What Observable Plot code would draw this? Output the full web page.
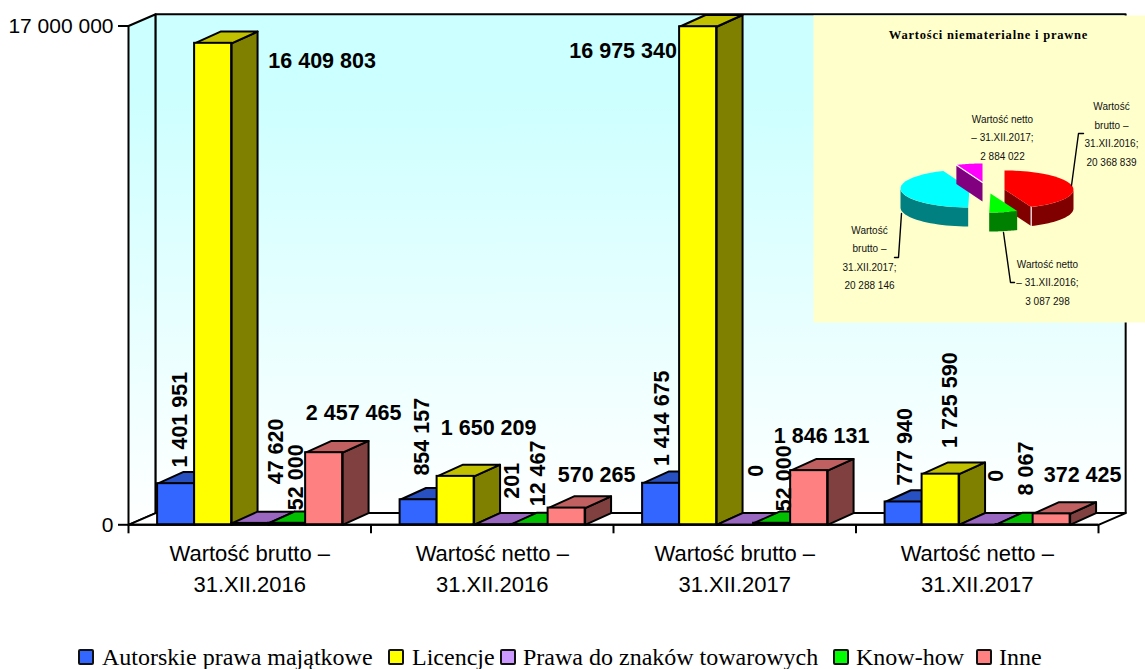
<!DOCTYPE html>
<html lang="pl"><head><meta charset="utf-8">
<script src="https://cdn.jsdelivr.net/npm/d3@7"></script>
<script src="https://cdn.jsdelivr.net/npm/@observablehq/plot@0.6"></script>
<style>
html,body{margin:0;padding:0;background:#fff;width:1145px;height:669px;overflow:hidden}
#stage{position:relative;width:1145px;height:669px}
#stage svg{position:absolute;overflow:visible}
.inset-title{letter-spacing:.8px}
.leg{position:absolute;font-family:"Liberation Serif",serif;font-size:24px;line-height:26px;top:644px;white-space:nowrap;color:#000}
.sw{position:absolute;top:649px;width:12px;height:12px;border:2px solid #111;border-radius:2px}
</style></head><body><div id="stage"></div>
<script>
const categories = ["Wartość brutto –\n31.XII.2016","Wartość netto –\n31.XII.2016","Wartość brutto –\n31.XII.2017","Wartość netto –\n31.XII.2017"];
const seriesNames = ["Autorskie prawa majątkowe","Licencje","Prawa do znaków towarowych","Know-how","Inne"];
const autorskie = [1401951,854157,1414675,777940];
const licencje = [16409803,1650209,16975340,1725590];
const znaki = [47620,201,0,0];
const knowHow = [52000,12467,52000,8067];
const inne = [2457465,570265,1846131,372425];
const yTicks = [0,17000000];

const pieNames = ["Wartość\nbrutto –\n31.XII.2016;\n20 368 839","Wartość netto\n– 31.XII.2016;\n3 087 298","Wartość\nbrutto –\n31.XII.2017;\n20 288 146","Wartość netto\n– 31.XII.2017;\n2 884 022"];
const pieValues = [20368839,3087298,20288146,2884022];

const frontColors = ["#3366FF","#FFFF00","#CC99FF","#00FF00","#FF8080"];
const topColors = ["#2850C0","#C0C000","#9966C0","#00C000","#C06060"];
const sideColors = ["#1A3380","#808000","#664D80","#008000","#804040"];

const fmt = d3.formatLocale({thousands:" ",grouping:[3],decimal:","}).format(",d");
const allSeries = [autorskie,licencje,znaki,knowHow,inne];

const barStart = 0.12, barW = 0.1526, depthX = 0.107, depthY = 400000, wallX = 0.112;
const rows = [];
categories.forEach((c,g)=>allSeries.forEach((vals,s)=>{
  const x1 = g+barStart+s*barW;
  rows.push({g,s,v:vals[g],x1,x2:x1+barW,xc:x1+barW/2,fill:frontColors[s],top:topColors[s],side:sideColors[s],name:seriesNames[s]});
}));

const faces = [];
const addFace = (id,fill,pts)=>pts.forEach(([x,y])=>faces.push({id,fill,x,y}));
rows.forEach((r,i)=>{
  addFace("side"+i,r.side,[[r.x2,0],[r.x2+depthX,depthY],[r.x2+depthX,r.v+depthY],[r.x2,r.v]]);
  addFace("top"+i,r.top,[[r.x1,r.v],[r.x1+depthX,r.v+depthY],[r.x2+depthX,r.v+depthY],[r.x2,r.v]]);
});

const wall = [];
[["left",[[0,0],[wallX,depthY],[wallX,17e6+depthY],[0,17e6]]],
 ["back",[[wallX,depthY],[4+wallX,depthY],[4+wallX,17e6+depthY],[wallX,17e6+depthY]]]
].forEach(([id,pts])=>pts.forEach(([x,y])=>wall.push({id,x,y})));
const floor = [[0,0],[wallX,depthY],[4+wallX,depthY],[4,0]].map(([x,y])=>({x,y}));

/* per-label nudge from the top centre of its bar: [dx, dy, rotated] */
const labelPlace = [
 [4.5,-64,1],[109,18,0],[25.5,-72,1],[8.5,-46,1],[29.5,-40,0],
 [4,-63,1],[33,-48,0],[19,-44,1],[8,-51,1],[30,-33,0],
 [1.5,-65,1],[-75,24,0],[20.5,-54,1],[11.5,-45,1],[12.5,-35,0],
 [2,-55,1],[10,-74,1],[18,-49,1],[11,-56,1],[31,-39,0]
];
const labelMarks = rows.map((r,i)=>{
  const [dx,dy,rot] = labelPlace[i];
  return Plot.text([r],{x:"xc",y:"v",text:d=>fmt(d.v),dx,dy,rotate:rot?-90:0,fontSize:21.5,fontWeight:"bold",fill:"#000",textAnchor:"middle",lineAnchor:"middle"});
});

const gradient = () => {
  const d = d3.create("svg:defs");
  const g = d.append("linearGradient").attr("id","wallGrad").attr("x1",0).attr("y1",0).attr("x2",0).attr("y2",1);
  g.append("stop").attr("offset","0").attr("stop-color","#CCFFFF");
  g.append("stop").attr("offset","0.15").attr("stop-color","#CCFFFF");
  g.append("stop").attr("offset","1").attr("stop-color","#FFFFFF");
  return d.node();
};

const main = Plot.plot({
  width:1145,height:640,marginLeft:128,marginRight:47,marginTop:25.5,marginBottom:115.7,
  style:{background:"transparent",fontFamily:"'Liberation Sans',Arial,sans-serif",color:"#000"},
  x:{domain:[0,4]},y:{domain:[0,17e6]},color:{type:"identity"},
  marks:[
    gradient,
    Plot.line(wall,{x:"x",y:"y",z:"id",fill:"url(#wallGrad)",stroke:"#000",strokeWidth:2,curve:"linear-closed"}),
    Plot.line(floor,{x:"x",y:"y",fill:"#fff",stroke:"#000",strokeWidth:2,curve:"linear-closed"}),
    Plot.line(faces,{x:"x",y:"y",z:"id",fill:"fill",stroke:"#000",strokeWidth:2,curve:"linear-closed"}),
    Plot.rect(rows,{x1:"x1",x2:"x2",y1:0,y2:"v",fill:"fill",stroke:"#000",strokeWidth:2}),
    Plot.axisY({ticks:yTicks,tickFormat:fmt,tickSize:10,tickPadding:5,fontSize:21,strokeWidth:2,stroke:"#000",label:null}),
    Plot.axisX({ticks:[0,1,2,3,4],tickFormat:()=>"",tickSize:9,strokeWidth:2,stroke:"#000",label:null}),
    Plot.ruleY([0],{x1:0,x2:4,stroke:"#000",strokeWidth:2}),
    Plot.text(categories,{x:(d,i)=>i+0.5,y:()=>0,text:d=>d,dy:14,fontSize:22,lineAnchor:"top",lineHeight:1.42,fill:"#000"}),
    ...labelMarks
  ]
});

/* inset pie */
const pieArcs = d3.pie().sort(null)(pieValues);
const rx = 69, ry = 19, depth = 19;
const centers = [[191,174],[177,178],[156,173],[169,167]];
const pieTop = ["#FF0000","#00FF00","#00FFFF","#FF00FF"];
const pieSide = ["#800000","#008000","#008080","#800080"];
const rim = (c,a,d=0)=>({x:c[0]+rx*Math.sin(a),y:c[1]-ry*Math.cos(a)+d});
const arcPts = (c,a,b,d=0)=>d3.range(0,25).map(k=>rim(c,a+(b-a)*k/24,d));
const pieFaces = [];
const pushFace=(id,fill,pts)=>pts.forEach(p=>pieFaces.push({id,fill,x:p.x,y:p.y}));
pieArcs.forEach((arc,i)=>{
  const c = centers[i], a=arc.startAngle, b=arc.endAngle, apex={x:c[0],y:c[1]};
  const down = p=>({x:p.x,y:p.y+depth});
  /* exposed inner cut faces */
  if(i===0){ const e=rim(c,b); pushFace("cut0",pieSide[0],[apex,e,down(e),down(apex)]); }
  if(i===3){ const e=rim(c,a); pushFace("cut3",pieSide[3],[apex,e,down(e),down(apex)]); }
  /* outer rim, the part facing the viewer */
  const ra=Math.max(a,Math.PI/2), rb=Math.min(b,3*Math.PI/2);
  if(rb>ra){ pushFace("rim"+i,pieSide[i],[...arcPts(c,ra,rb),...arcPts(c,rb,ra,depth)]); }
  pushFace("top"+i,pieTop[i],[apex,...arcPts(c,a,b)]);
});
const seams = [];
{ const e=rim(centers[0],pieArcs[0].endAngle);
  [e,{x:e.x,y:e.y+depth}].forEach(p=>seams.push({id:"s0",...p}));
  const m=rim(centers[3],pieArcs[3].startAngle);
  [{x:centers[3][0],y:centers[3][1]},m].forEach(p=>seams.push({id:"s3",...p}));
}
const leaderPts = [
  ["l0",[[258,170],[265,118],[270,118]]],
  ["l1",[[190,217],[197,267],[201,267]]],
  ["l2",[[88,198],[85,242],[81,242]]]
].flatMap(([id,pts])=>pts.map(([x,y])=>({id,x,y})));
const pieLabelAt = [[298,116.5],[234,265],[56,240],[189,120]];

const inset = Plot.plot({
  width:332,height:307,margin:0,
  style:{background:"transparent",fontFamily:"'Liberation Sans',Arial,sans-serif",color:"#000"},
  x:{domain:[0,332],axis:null},y:{domain:[0,307],reverse:true,axis:null},color:{type:"identity"},
  marks:[
    Plot.frame({fill:"#FFFFCC",stroke:"none"}),
    Plot.line(pieFaces,{x:"x",y:"y",z:"id",fill:"fill",stroke:"none",curve:"linear-closed"}),
    Plot.line(seams,{x:"x",y:"y",z:"id",stroke:"#fff",strokeWidth:1.2}),
    Plot.line(leaderPts,{x:"x",y:"y",z:"id",stroke:"#000",strokeWidth:1.4}),
    Plot.text(pieNames,{x:(d,i)=>pieLabelAt[i][0],y:(d,i)=>pieLabelAt[i][1],text:d=>d,fontSize:10,lineHeight:1.85,fill:"#111"}),
    Plot.text(["Wartości niematerialne i prawne"],{x:()=>175,y:()=>19,text:d=>d,fontFamily:"'Liberation Serif',serif",fontWeight:"bold",fontSize:12.5,fill:"#000",className:"inset-title"})
  ]
});

const stage = document.getElementById("stage");
main.style.left="0";main.style.top="0";
inset.style.left="813px";inset.style.top="15px";
stage.append(main,inset);

/* legend */
const legendSw = [78,388,500,833,976], legendTx = [102,412,523,856,999];
seriesNames.forEach((n,i)=>{
  const s=document.createElement("span");s.className="sw";s.style.left=legendSw[i]+"px";s.style.background=frontColors[i];
  const t=document.createElement("span");t.className="leg";t.style.left=legendTx[i]+"px";t.textContent=n;
  stage.append(s,t);
});
</script></body></html>
